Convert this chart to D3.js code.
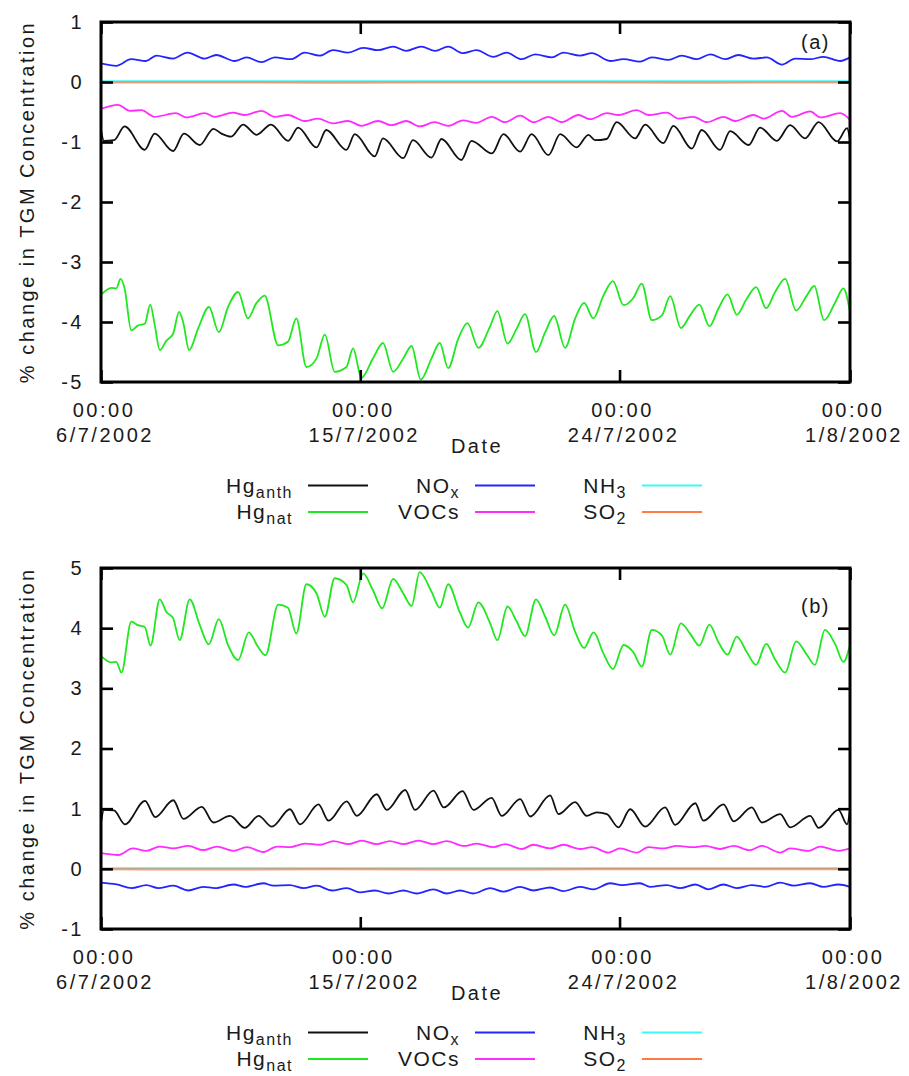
<!DOCTYPE html>
<html>
<head>
<meta charset="utf-8">
<script src="https://cdn.jsdelivr.net/npm/d3@7"></script>
<style>
  body { margin: 0; background: #fff; }
  text { font-family: "Liberation Sans", Arial, sans-serif; fill: #1a1a1a; }
</style>
</head>
<body>
<svg id="chart" width="909" height="1076"></svg>
<script>
// ---- time axis ----------------------------------------------------------
const startDate = new Date(2002, 6, 6, 0, 0);          // 6/7/2002 00:00
const endDate = new Date(2002, 7, 1, 0, 0);            // 1/8/2002 00:00
const dateTicks = [new Date(2002, 6, 6), new Date(2002, 6, 15), new Date(2002, 6, 24), new Date(2002, 7, 1)];
const timeLabels = ["00:00", "00:00", "00:00", "00:00"];
const dateLabels = ["6/7/2002", "15/7/2002", "24/7/2002", "1/8/2002"];

// ---- value axes ---------------------------------------------------------
const yTicksA = [1, 0, -1, -2, -3, -4, -5];
const yTicksB = [5, 4, 3, 2, 1, 0, -1];

// ---- series: [days since 6/7/2002 00:00, % change in TGM] ----------------
// Panel (a)
const hgAnthA = [[0,-0.80],[0.1,-0.98],[0.45,-0.97],[0.82,-0.74],[1.52,-1.13],[1.86,-0.86],[2.5,-1.15],[2.88,-0.86],[3.43,-1.05],[3.9,-0.78],[4.18,-0.86],[4.52,-0.91],[4.93,-0.71],[5.4,-0.88],[5.9,-0.71],[6.5,-0.98],[6.84,-0.76],[7.48,-1.09],[7.82,-0.80],[8.52,-1.13],[8.81,-0.87],[9.5,-1.24],[9.79,-0.94],[10.49,-1.27],[10.83,-0.97],[11.47,-1.26],[11.82,-0.95],[12.51,-1.30],[12.86,-0.98],[13.57,-1.19],[13.97,-0.87],[14.55,-1.16],[14.95,-0.87],[15.53,-1.22],[15.94,-0.87],[16.51,-1.09],[16.92,-0.88],[17.15,-0.97],[17.55,-0.95],[17.9,-0.67],[18.54,-0.94],[18.89,-0.71],[19.52,-1.02],[19.87,-0.73],[20.51,-1.11],[20.85,-0.80],[21.49,-1.13],[21.84,-0.82],[22.48,-1.05],[22.88,-0.76],[23.46,-0.98],[23.92,-0.72],[24.44,-0.94],[24.91,-0.67],[25.55,-0.99],[25.9,-0.77],[26,-0.97]];
const hgNatA = [[0,-3.55],[0.36,-3.43],[0.53,-3.44],[0.68,-3.28],[0.82,-3.44],[1.05,-4.14],[1.28,-4.06],[1.52,-4.03],[1.71,-3.71],[1.87,-4.06],[2.04,-4.47],[2.27,-4.31],[2.5,-4.20],[2.71,-3.83],[2.85,-4.00],[3.06,-4.47],[3.37,-4.11],[3.75,-3.75],[4.09,-4.17],[4.41,-3.75],[4.76,-3.50],[5.1,-3.94],[5.39,-3.69],[5.68,-3.56],[6.15,-4.39],[6.49,-4.33],[6.78,-3.94],[7.13,-4.75],[7.48,-4.61],[7.77,-4.21],[8.11,-4.83],[8.52,-4.75],[8.75,-4.44],[9.04,-4.93],[9.44,-4.61],[9.79,-4.35],[10.14,-4.83],[10.49,-4.61],[10.78,-4.40],[11.1,-4.96],[11.47,-4.61],[11.76,-4.35],[12.05,-4.77],[12.4,-4.28],[12.72,-4.02],[13.1,-4.43],[13.5,-4.08],[13.76,-3.82],[14.11,-4.36],[14.43,-4.11],[14.72,-3.87],[15.1,-4.50],[15.42,-4.17],[15.73,-3.90],[16.11,-4.43],[16.46,-3.94],[16.77,-3.68],[17.09,-3.94],[17.44,-3.56],[17.77,-3.32],[18.14,-3.72],[18.48,-3.60],[18.77,-3.36],[19.12,-3.97],[19.47,-3.89],[19.76,-3.57],[20.13,-4.10],[20.45,-3.89],[20.77,-3.71],[21.12,-4.07],[21.43,-3.78],[21.75,-3.54],[22.07,-3.88],[22.42,-3.61],[22.74,-3.42],[23.09,-3.77],[23.4,-3.50],[23.75,-3.28],[24.13,-3.81],[24.5,-3.56],[24.76,-3.40],[25.1,-3.97],[25.49,-3.67],[25.77,-3.44],[26,-3.83]];
const noxA = [[0,0.31],[0.53,0.27],[1.05,0.38],[1.56,0.35],[1.92,0.44],[2.5,0.39],[3.0,0.49],[3.6,0.39],[4.0,0.45],[4.64,0.35],[5.05,0.41],[5.57,0.33],[6.03,0.41],[6.6,0.38],[7.07,0.49],[7.59,0.44],[8.05,0.53],[8.58,0.49],[9.1,0.57],[9.62,0.53],[10.14,0.59],[10.6,0.52],[11.12,0.59],[11.6,0.52],[12.05,0.59],[12.57,0.48],[13.03,0.53],[13.62,0.42],[14.08,0.49],[14.6,0.38],[15.07,0.46],[15.65,0.41],[16.05,0.49],[16.63,0.44],[17.04,0.48],[17.67,0.35],[18.14,0.38],[18.71,0.34],[19.12,0.41],[19.7,0.37],[20.16,0.44],[20.68,0.38],[21.15,0.46],[21.66,0.38],[22.13,0.45],[22.65,0.39],[23.11,0.41],[23.64,0.29],[24.1,0.39],[24.62,0.38],[25.08,0.42],[25.66,0.35],[26,0.41]];
const vocA = [[0,-0.45],[0.59,-0.38],[1.0,-0.48],[1.4,-0.47],[1.86,-0.58],[2.6,-0.52],[2.96,-0.59],[3.6,-0.52],[3.95,-0.58],[4.58,-0.51],[4.99,-0.55],[5.57,-0.48],[6.03,-0.58],[6.49,-0.55],[7.07,-0.65],[7.53,-0.61],[8.05,-0.69],[8.58,-0.65],[9.04,-0.73],[9.62,-0.65],[10.08,-0.72],[10.6,-0.65],[11.06,-0.74],[11.58,-0.67],[12.05,-0.73],[12.57,-0.64],[13.03,-0.68],[13.57,-0.58],[14.02,-0.67],[14.55,-0.56],[15.02,-0.67],[15.53,-0.58],[16.0,-0.67],[16.57,-0.55],[16.98,-0.62],[17.56,-0.52],[17.96,-0.55],[18.6,-0.47],[19.0,-0.55],[19.64,-0.51],[20.05,-0.61],[20.57,-0.58],[21.03,-0.67],[21.61,-0.58],[22.01,-0.65],[22.65,-0.55],[23.0,-0.61],[23.64,-0.48],[23.98,-0.58],[24.62,-0.49],[24.97,-0.59],[25.66,-0.52],[26,-0.63]];
const nh3A = [[0,0.01],[4,0.01],[8,0.01],[13,0.01],[17,0.01],[21,0.01],[26,0.01]];
const so2A = [[0,-0.005],[4,-0.005],[8,-0.01],[13,-0.005],[17,-0.005],[21,-0.01],[26,-0.005]];

// Panel (b)
const hgAnthB = [[0,0.76],[0.1,0.98],[0.45,0.97],[0.83,0.74],[1.53,1.13],[1.88,0.86],[2.51,1.14],[2.86,0.83],[3.5,1.03],[3.9,0.77],[4.48,0.88],[4.99,0.68],[5.47,0.88],[5.93,0.70],[6.56,0.99],[6.91,0.74],[7.55,1.07],[7.9,0.80],[8.53,1.12],[8.88,0.88],[9.57,1.24],[9.92,0.98],[10.56,1.31],[10.9,0.98],[11.54,1.30],[11.9,1.02],[12.55,1.29],[12.93,0.98],[13.56,1.18],[13.91,0.88],[14.55,1.16],[14.9,0.87],[15.59,1.22],[15.88,0.91],[16.46,1.11],[16.86,0.88],[17.21,0.94],[17.56,0.91],[17.96,0.69],[18.37,0.99],[18.89,0.70],[19.58,1.02],[19.93,0.73],[20.63,1.09],[20.91,0.80],[21.61,1.07],[21.96,0.79],[22.59,1.02],[22.94,0.77],[23.58,0.91],[23.92,0.69],[24.62,0.88],[24.91,0.68],[25.6,0.98],[25.9,0.74],[26,0.98]];
const hgNatB = [[0,3.54],[0.36,3.43],[0.53,3.44],[0.71,3.26],[1.05,4.11],[1.28,4.05],[1.52,4.02],[1.72,3.71],[2.04,4.48],[2.27,4.27],[2.5,4.17],[2.73,3.80],[3.08,4.48],[3.43,4.05],[3.74,3.73],[4.09,4.15],[4.41,3.72],[4.76,3.47],[5.13,3.93],[5.45,3.69],[5.71,3.55],[6.15,4.39],[6.49,4.34],[6.78,3.91],[7.13,4.73],[7.48,4.58],[7.77,4.19],[8.11,4.83],[8.52,4.72],[8.75,4.43],[9.1,4.91],[9.44,4.63],[9.76,4.33],[10.14,4.82],[10.49,4.58],[10.78,4.37],[11.06,4.93],[11.47,4.61],[11.76,4.34],[12.05,4.73],[12.45,4.27],[12.74,4.01],[13.1,4.43],[13.5,4.09],[13.76,3.80],[14.11,4.36],[14.43,4.11],[14.72,3.87],[15.1,4.48],[15.42,4.19],[15.73,3.88],[16.11,4.39],[16.46,3.94],[16.77,3.67],[17.1,3.93],[17.44,3.58],[17.77,3.32],[18.14,3.72],[18.48,3.60],[18.77,3.36],[19.12,3.97],[19.47,3.88],[19.76,3.56],[20.13,4.08],[20.45,3.91],[20.77,3.71],[21.12,4.06],[21.43,3.77],[21.75,3.56],[22.07,3.86],[22.42,3.60],[22.74,3.39],[23.09,3.74],[23.4,3.48],[23.75,3.26],[24.13,3.78],[24.5,3.56],[24.78,3.39],[25.13,3.97],[25.49,3.73],[25.77,3.44],[26,3.72]];
const noxB = [[0,-0.23],[0.54,-0.26],[1.06,-0.32],[1.58,-0.27],[1.99,-0.32],[2.51,-0.28],[3.03,-0.36],[3.55,-0.30],[3.96,-0.32],[4.6,-0.26],[5.0,-0.30],[5.64,-0.24],[5.98,-0.28],[6.56,-0.27],[7.03,-0.32],[7.49,-0.28],[8.01,-0.36],[8.53,-0.32],[8.99,-0.39],[9.51,-0.36],[9.98,-0.41],[10.5,-0.36],[10.96,-0.41],[11.54,-0.34],[12.0,-0.41],[12.47,-0.36],[12.93,-0.41],[13.51,-0.32],[13.97,-0.38],[14.55,-0.30],[15.01,-0.36],[15.59,-0.31],[16.05,-0.37],[16.63,-0.30],[17.1,-0.34],[17.67,-0.24],[18.08,-0.27],[18.71,-0.24],[19.06,-0.30],[19.64,-0.27],[20.1,-0.32],[20.63,-0.26],[21.09,-0.34],[21.61,-0.26],[22.07,-0.32],[22.59,-0.27],[23.06,-0.30],[23.58,-0.23],[24.04,-0.28],[24.62,-0.24],[25.08,-0.30],[25.6,-0.26],[26,-0.30]];
const vocB = [[0,0.26],[0.6,0.23],[1.1,0.34],[1.58,0.30],[2.04,0.37],[2.5,0.34],[3.03,0.38],[3.55,0.31],[4.02,0.37],[4.6,0.30],[5.06,0.36],[5.64,0.28],[6.1,0.37],[6.56,0.36],[7.08,0.42],[7.6,0.40],[8.07,0.46],[8.59,0.41],[9.05,0.47],[9.57,0.41],[10.03,0.46],[10.5,0.41],[11.02,0.47],[11.54,0.41],[12.0,0.46],[12.6,0.38],[13.04,0.42],[13.62,0.36],[14.03,0.41],[14.61,0.33],[15.01,0.40],[15.59,0.34],[16.05,0.40],[16.63,0.33],[17.04,0.36],[17.61,0.27],[18.02,0.34],[18.6,0.27],[19.0,0.36],[19.53,0.34],[19.99,0.38],[20.57,0.36],[20.97,0.38],[21.49,0.33],[21.96,0.38],[22.53,0.31],[22.94,0.38],[23.58,0.27],[23.92,0.34],[24.56,0.30],[24.96,0.37],[25.6,0.30],[26,0.34]];
const nh3B = [[0,0.01],[4,0.01],[8,0.01],[13,0.01],[17,0.01],[21,0.01],[26,0.01]];
const so2B = [[0,-0.005],[4,-0.01],[8,-0.005],[13,-0.01],[17,-0.005],[21,-0.005],[26,-0.005]];

// ---- legend entries ------------------------------------------------------
const seriesNames = [["Hg", "anth"], ["Hg", "nat"], ["NO", "x"], ["VOCs", ""], ["NH", "3"], ["SO", "2"]];
const seriesColors = ["#111111", "#1fe81f", "#2424ff", "#ff2cff", "#3ef8f8", "#ff7a45"];

const panels = [
  { id: "a", top: 22, bottom: 382, domain: [-5, 1], ticks: yTicksA,
    series: [hgAnthA, hgNatA, noxA, vocA, nh3A, so2A], legendY: 485.5, tagY: 49 },
  { id: "b", top: 568, bottom: 929, domain: [-1, 5], ticks: yTicksB,
    series: [hgAnthB, hgNatB, noxB, vocB, nh3B, so2B], legendY: 1032.5, tagY: 613 }
];

const svg = d3.select("#chart");
svg.append("rect").attr("width", 909).attr("height", 1076).attr("fill", "#fff");

const left = 101, right = 850;
const dayMs = 864e5;
const FONT = 20, SPACING = 2.5;

const x = d3.scaleTime().domain([startDate, endDate]).range([left, right]);

panels.forEach(p => {
  const y = d3.scaleLinear().domain(p.domain).range([p.bottom, p.top]);
  const g = svg.append("g");

  // clip region for the data lines
  const clipId = "clip-" + p.id;
  svg.append("clipPath").attr("id", clipId)
    .append("rect").attr("x", left).attr("y", p.top).attr("width", right - left).attr("height", p.bottom - p.top);

  const line = d3.line()
    .x(d => x(new Date(startDate.getTime() + d[0] * dayMs)))
    .y(d => y(d[1]))
    .curve(d3.curveMonotoneX);

  // SO2 is drawn semi-transparent on top of NH3, both sitting on zero
  const lines = g.append("g").attr("clip-path", `url(#${clipId})`);
  p.series.forEach((s, i) => {
    lines.append("path")
      .attr("d", line(s))
      .attr("fill", "none")
      .attr("stroke", seriesColors[i])
      .attr("stroke-width", i >= 4 ? 2.2 : 1.8)
      .attr("stroke-opacity", i === 5 ? 0.72 : 1)
      .attr("stroke-linejoin", "round");
  });

  // axes with inward ticks
  const yLeft = d3.axisLeft(y).tickValues(p.ticks).tickSize(-12).tickPadding(17).tickFormat(d => String(d));
  const yRight = d3.axisRight(y).tickValues(p.ticks).tickSize(-12).tickFormat("");
  const xTop = d3.axisTop(x).tickValues(dateTicks).tickSize(-12).tickFormat("");
  const xBottom = d3.axisBottom(x).tickValues(dateTicks).tickSize(-12).tickFormat("");

  const axL = g.append("g").attr("transform", `translate(${left},0)`).call(yLeft);
  const axR = g.append("g").attr("transform", `translate(${right},0)`).call(yRight);
  const axT = g.append("g").attr("transform", `translate(0,${p.top})`).call(xTop);
  const axB = g.append("g").attr("transform", `translate(0,${p.bottom})`).call(xBottom);
  [axL, axR, axT, axB].forEach(a => {
    a.select(".domain").remove();
    a.selectAll(".tick line").attr("stroke", "#000").attr("stroke-width", 2.6);
  });
  axL.selectAll(".tick text")
    .attr("font-size", FONT).attr("letter-spacing", SPACING)
    .attr("font-family", "Liberation Sans, Arial, sans-serif").attr("fill", "#1a1a1a");

  // two-line date labels under the bottom axis
  const lab = g.append("g");
  dateTicks.forEach((t, i) => {
    lab.append("text").attr("x", x(t) + 3).attr("y", p.bottom + 35)
      .attr("text-anchor", "middle").attr("font-size", FONT).attr("letter-spacing", SPACING)
      .text(timeLabels[i]);
    lab.append("text").attr("x", x(t) + 4).attr("y", p.bottom + 60)
      .attr("text-anchor", "middle").attr("font-size", FONT).attr("letter-spacing", SPACING)
      .text(dateLabels[i]);
  });
  g.append("text").attr("x", 477).attr("y", p.bottom + 71)
    .attr("text-anchor", "middle").attr("font-size", FONT).attr("letter-spacing", SPACING)
    .text("Date");

  // y-axis title
  g.append("text")
    .attr("transform", `translate(34,${(p.top + p.bottom) / 2}) rotate(-90)`)
    .attr("text-anchor", "middle").attr("font-size", FONT).attr("letter-spacing", SPACING)
    .text("% change in TGM Concentration");

  // frame
  g.append("rect").attr("x", left).attr("y", p.top)
    .attr("width", right - left).attr("height", p.bottom - p.top)
    .attr("fill", "none").attr("stroke", "#000").attr("stroke-width", 3);

  // panel tag
  g.append("text").attr("x", 830).attr("y", p.tagY).attr("text-anchor", "end")
    .attr("font-size", FONT).attr("letter-spacing", 1.5).text(`(${p.id})`);

  // legend: three columns of two entries
  const leg = g.append("g");
  seriesNames.forEach((nm, i) => {
    const col = Math.floor(i / 2), row = i % 2;
    const ly = p.legendY + row * 26.5;
    const tx = 293 + col * 167;
    const t = leg.append("text").attr("x", tx).attr("y", ly + 7)
      .attr("text-anchor", "end").attr("font-size", 21).attr("letter-spacing", 1.5);
    t.append("tspan").text(nm[0]);
    if (nm[1]) t.append("tspan").attr("dy", 5).attr("font-size", 16).text(nm[1]);
    leg.append("line")
      .attr("x1", 308 + col * 167).attr("x2", 368 + col * 167)
      .attr("y1", ly).attr("y2", ly)
      .attr("stroke", seriesColors[i]).attr("stroke-width", 1.8);
  });
});
</script>
</body>
</html>
